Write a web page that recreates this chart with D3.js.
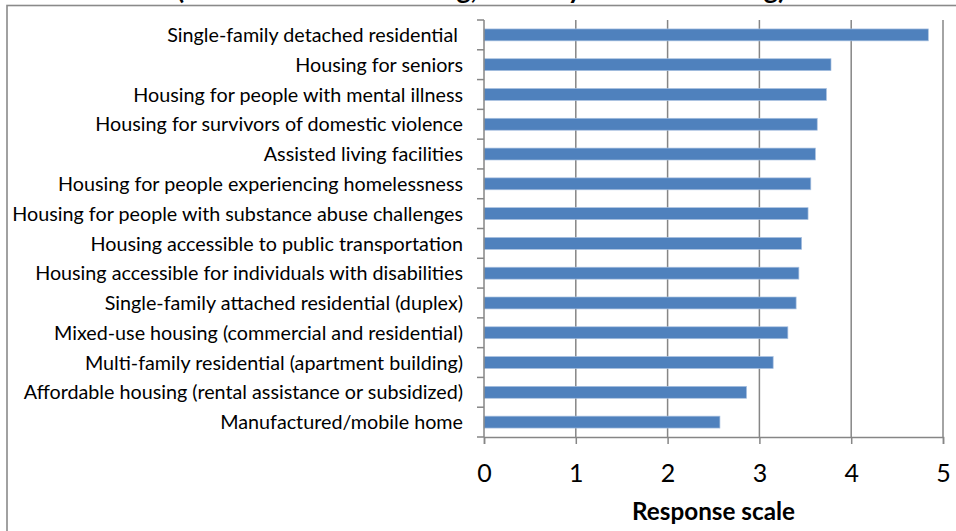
<!DOCTYPE html>
<html>
<head>
<meta charset="utf-8">
<script src="https://cdn.jsdelivr.net/npm/d3@7"></script>
<style>
  html, body { margin: 0; padding: 0; background: #ffffff; overflow: hidden; }
  svg { display: block; }
</style>
</head>
<body>
<svg id="chart" width="956" height="531"></svg>
<script>
// ---- data ----
const categories = [
  "Single-family detached residential ",
  "Housing for seniors",
  "Housing for people with mental illness",
  "Housing for survivors of domestic violence",
  "Assisted living facilities",
  "Housing for people experiencing homelessness",
  "Housing for people with substance abuse challenges",
  "Housing accessible to public transportation",
  "Housing accessible for individuals with disabilities",
  "Single-family attached residential (duplex)",
  "Mixed-use housing (commercial and residential)",
  "Multi-family residential (apartment building)",
  "Affordable housing (rental assistance or subsidized)",
  "Manufactured/mobile home"
];
const values = [4.84, 3.78, 3.73, 3.63, 3.61, 3.56, 3.53, 3.46, 3.43, 3.40, 3.31, 3.15, 2.86, 2.57];
const xTicks = [0, 1, 2, 3, 4, 5];
const titleText = "(1 = Not accommodating, 5 = Very accommodating)";
const axisTitle = "Response scale";

// ---- layout ----
const svg = d3.select("#chart");
const plot = { left: 484, right: 943, top: 20, bottom: 437 };
const gridColor = "#868686";
const barColor = "#4F81BD";
const font = "Lato, 'Open Sans', sans-serif";

const x = d3.scaleLinear().domain([0, 5]).range([plot.left, plot.right]);
const y = d3.scaleBand().domain(categories).range([plot.top, plot.bottom])
  .paddingInner(0.6).paddingOuter(0.3);

// outer chart border
svg.append("rect")
  .attr("x", 7).attr("y", 5.5).attr("width", 980).attr("height", 560)
  .attr("fill", "none").attr("stroke", "#8a8a8a").attr("stroke-width", 1.6);

// title (only its lowest part is visible, as in the reference)
const title = svg.append("text")
  .attr("x", 481).attr("y", -1)
  .attr("text-anchor", "middle")
  .attr("font-family", font).attr("font-weight", "bold")
  .attr("font-size", 24).attr("fill", "#000")
  .text(titleText);
const tw = title.node().getComputedTextLength();
title.attr("font-size", 24 * 609 / tw);

// gridlines
svg.append("g").selectAll("line")
  .data(xTicks.filter(d => d > 0))
  .join("line")
  .attr("x1", d => x(d)).attr("x2", d => x(d))
  .attr("y1", plot.top).attr("y2", plot.bottom)
  .attr("stroke", gridColor).attr("stroke-width", 1.5);

// bars
svg.append("g").selectAll("rect")
  .data(categories.map((c, i) => ({ c, v: values[i] })))
  .join("rect")
  .attr("x", x(0))
  .attr("y", d => y(d.c))
  .attr("width", d => x(d.v) - x(0))
  .attr("height", y.bandwidth())
  .attr("fill", barColor)
  .attr("stroke", "#a9c1e0").attr("stroke-width", 0.7);

// x axis
const xAxis = d3.axisBottom(x).tickValues(xTicks).tickSize(7).tickFormat(d3.format("d"));
const gx = svg.append("g").attr("transform", `translate(0,${plot.bottom})`).call(xAxis);
gx.select(".domain").attr("stroke", gridColor).attr("stroke-width", 1.5);
gx.selectAll(".tick line").attr("stroke", gridColor).attr("stroke-width", 1.5);
gx.selectAll(".tick text")
  .attr("y", 45).attr("dy", 0)
  .attr("font-family", font).attr("font-size", 25).attr("fill", "#000");

// y axis line + ticks at band boundaries
const step = y.step();
const boundaries = d3.range(categories.length + 1).map(i => plot.top + i * step);
svg.append("line")
  .attr("x1", plot.left).attr("x2", plot.left)
  .attr("y1", plot.top).attr("y2", plot.bottom)
  .attr("stroke", gridColor).attr("stroke-width", 1.5);
svg.append("g").selectAll("line")
  .data(boundaries)
  .join("line")
  .attr("x1", plot.left - 7).attr("x2", plot.left)
  .attr("y1", d => d).attr("y2", d => d)
  .attr("stroke", gridColor).attr("stroke-width", 1.5);

// category labels
const labels = svg.append("g").selectAll("text")
  .data(categories)
  .join("text")
  .attr("x", 463)
  .attr("y", d => y(d) + y.bandwidth() / 2)
  .attr("dy", "0.36em")
  .attr("text-anchor", "end")
  .attr("font-family", font).attr("font-size", 18).attr("fill", "#000")
  .style("white-space", "pre")
  .text(d => d);
// fit label size to the reference width of the longest label
let maxW = 0;
labels.each(function () { maxW = Math.max(maxW, this.getComputedTextLength()); });
labels.attr("font-size", 18 * 451 / maxW);

// axis title
const at = svg.append("text")
  .attr("x", (plot.left + plot.right) / 2).attr("y", 520)
  .attr("text-anchor", "middle")
  .attr("font-family", font).attr("font-weight", "bold")
  .attr("font-size", 22).attr("fill", "#000")
  .text(axisTitle);
at.attr("font-size", 22 * 163 / at.node().getComputedTextLength());
</script>
</body>
</html>
